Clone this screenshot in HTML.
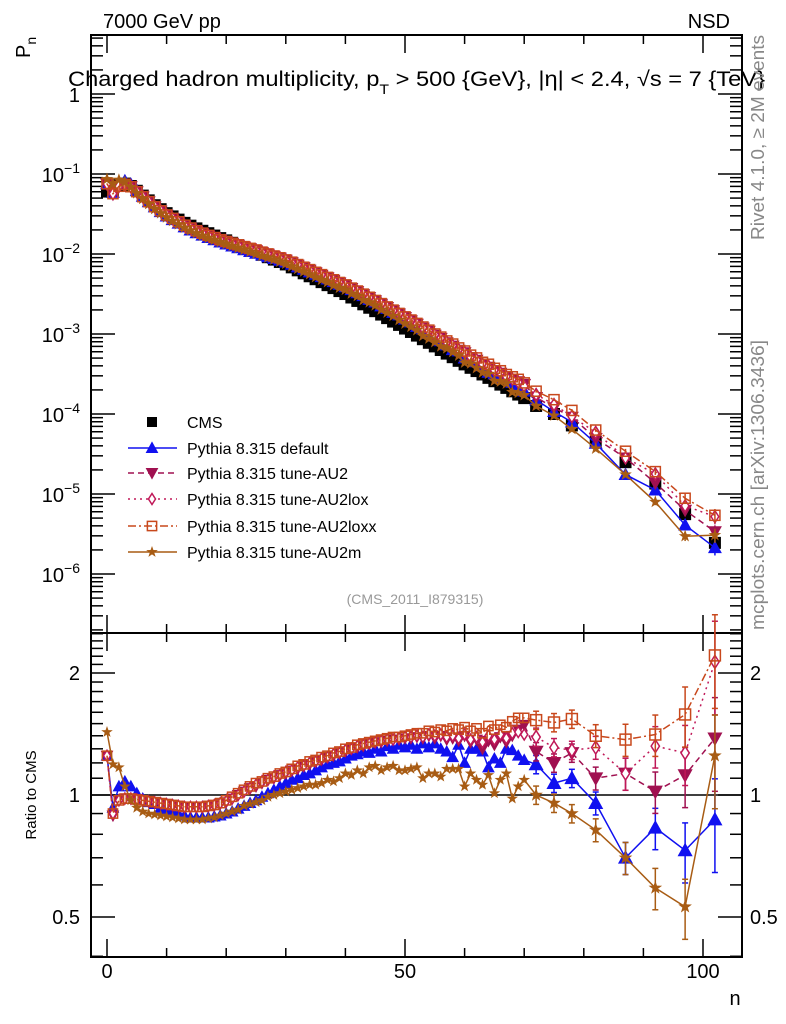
<!DOCTYPE html>
<html><head><meta charset="utf-8"><style>
html,body{margin:0;padding:0;background:#fff;}
svg{display:block;font-family:"Liberation Sans",sans-serif;}
</style></head><body>
<svg id="c" width="786" height="1024" viewBox="0 0 786 1024" xmlns="http://www.w3.org/2000/svg"></svg>
<script>
// ---- data ----
const nVals = [0,1,2,3,4,5,6,7,8,9,10,11,12,13,14,15,16,17,18,19,20,21,22,23,24,25,26,27,28,29,30,31,32,33,34,35,36,37,38,39,40,41,42,43,44,45,46,47,48,49,50,51,52,53,54,55,56,57,58,59,60,61,62,63,64,65,66,67,68,69,70,72,75,78,82,87,92,97,102];
const cmsVals = [0.0603,0.0631,0.0724,0.0759,0.0708,0.0617,0.0537,0.0468,0.0407,0.0363,0.0324,0.0295,0.0269,0.0245,0.0226,0.0209,0.0195,0.0182,0.0170,0.0158,0.0148,0.0138,0.0129,0.0120,0.0112,0.0105,0.00977,0.00912,0.00851,0.00794,0.00741,0.00681,0.00625,0.00574,0.00527,0.00484,0.00445,0.00408,0.00375,0.00344,0.00316,0.00286,0.00259,0.00235,0.00213,0.00193,0.00175,0.00158,0.00143,0.00130,0.00117,0.00106,0.000955,0.000861,0.000776,0.000700,0.000631,0.000569,0.000513,0.000462,0.000417,0.000378,0.000344,0.000312,0.000283,0.000257,0.000233,0.000212,0.000192,0.000175,0.000158,0.000126,0.000100,0.000072,0.000045,0.000025,0.0000135,0.0000056,0.00000245];
const ratioDefault = [1.25,0.93,1.05,1.08,1.05,1.01,0.98,0.96,0.95,0.93,0.92,0.91,0.9,0.89,0.88,0.88,0.88,0.88,0.885,0.89,0.9,0.91,0.925,0.94,0.955,0.97,0.99,1.01,1.03,1.05,1.07,1.09,1.1,1.12,1.13,1.15,1.17,1.19,1.2,1.21,1.23,1.25,1.26,1.28,1.27,1.3,1.28,1.32,1.3,1.33,1.31,1.33,1.3,1.34,1.31,1.34,1.3,1.28,1.24,1.33,1.2,1.3,1.3,1.28,1.17,1.23,1.2,1.3,1.29,1.25,1.22,1.19,1.07,1.10,0.955,0.70,0.83,0.73,0.87];
const ratioAU2 = [1.25,0.89,0.97,0.98,0.98,0.97,0.965,0.96,0.955,0.95,0.945,0.94,0.935,0.93,0.93,0.93,0.93,0.935,0.94,0.95,0.96,0.98,1.0,1.02,1.04,1.05,1.07,1.09,1.1,1.12,1.13,1.15,1.16,1.18,1.19,1.21,1.22,1.24,1.25,1.27,1.28,1.3,1.31,1.32,1.34,1.35,1.35,1.36,1.37,1.37,1.38,1.38,1.39,1.38,1.4,1.38,1.4,1.37,1.38,1.36,1.4,1.35,1.37,1.3,1.36,1.33,1.39,1.35,1.4,1.45,1.49,1.28,1.2,1.27,1.10,1.13,1.02,1.12,1.38];
const ratioAU2lox = [1.25,0.9,0.97,0.98,0.98,0.975,0.97,0.965,0.96,0.955,0.95,0.945,0.94,0.935,0.935,0.935,0.935,0.94,0.945,0.955,0.965,0.98,1.0,1.02,1.04,1.06,1.08,1.09,1.11,1.12,1.14,1.15,1.17,1.18,1.2,1.21,1.23,1.24,1.26,1.27,1.29,1.3,1.32,1.33,1.34,1.35,1.36,1.37,1.37,1.38,1.39,1.39,1.4,1.39,1.41,1.4,1.41,1.39,1.4,1.38,1.41,1.37,1.39,1.35,1.4,1.37,1.41,1.38,1.42,1.43,1.41,1.39,1.31,1.29,1.31,1.13,1.32,1.27,2.13];
const ratioAU2loxx = [1.25,0.9,0.97,0.98,0.98,0.975,0.97,0.965,0.96,0.955,0.95,0.945,0.94,0.935,0.935,0.935,0.935,0.94,0.945,0.955,0.97,0.99,1.01,1.03,1.05,1.07,1.08,1.1,1.11,1.13,1.14,1.16,1.18,1.19,1.21,1.22,1.24,1.25,1.27,1.28,1.3,1.31,1.33,1.34,1.35,1.36,1.37,1.38,1.39,1.39,1.4,1.41,1.42,1.42,1.44,1.43,1.45,1.44,1.46,1.45,1.47,1.44,1.46,1.42,1.48,1.45,1.49,1.47,1.52,1.55,1.55,1.53,1.51,1.54,1.40,1.37,1.41,1.58,2.21];
const ratioAU2m = [1.43,1.19,1.17,1.05,0.97,0.93,0.91,0.9,0.895,0.89,0.885,0.88,0.875,0.87,0.87,0.87,0.87,0.875,0.88,0.89,0.9,0.91,0.92,0.94,0.95,0.96,0.97,0.99,1.0,1.01,1.02,1.03,1.04,1.05,1.06,1.06,1.07,1.09,1.08,1.1,1.13,1.12,1.15,1.13,1.17,1.18,1.15,1.17,1.18,1.15,1.15,1.16,1.17,1.1,1.13,1.13,1.11,1.16,1.16,1.16,1.05,1.13,1.09,1.06,1.12,1.01,1.09,1.13,0.98,1.05,1.09,1.0,0.955,0.90,0.82,0.70,0.59,0.53,1.25];
const tailRelErr = [0.04,0.04,0.04,0.05,0.07,0.09,0.13,0.2]; // for last 8 points
const baseRelErr = 0.012;
const xTickLabels = ["0","50","100"];
const ratioTickLabels = ["0.5","1","2"];

// ---- axes ----
const NS="http://www.w3.org/2000/svg";
const svg=document.getElementById('c');
const X0=91,X1=742,MT=35,MB=633,RB=957;
function xs(n){return 107+(n-0)*(703-107)/100;}
function ym(v){return 94-80*Math.log10(v);}
function yr(r){return 795-405.3*Math.log10(r);}
function el(tag,attrs,parent){const e=document.createElementNS(NS,tag);for(const k in attrs)e.setAttribute(k,attrs[k]);(parent||svg).appendChild(e);return e;}
function relErr(i){const k=i-(nVals.length-tailRelErr.length);return k>=0?tailRelErr[k]:baseRelErr;}

const fm=el('rect',{x:X0,y:MT,width:X1-X0,height:MB-MT,fill:'none',stroke:'#000','stroke-width':2});


const fr=el('rect',{x:X0,y:MB,width:X1-X0,height:RB-MB,fill:'none',stroke:'#000','stroke-width':2});



const gx=el('g',{stroke:'#000','stroke-width':1.5});


for(let n=0;n<=105;n+=10){const x=xs(n);const len=n%50===0?18:9;
  el('line',{x1:x,y1:MT,x2:x,y2:MT+len},gx);el('line',{x1:x,y1:MB,x2:x,y2:MB-len},gx);
  el('line',{x1:x,y1:MB,x2:x,y2:MB+len},gx);el('line',{x1:x,y1:RB,x2:x,y2:RB-len},gx);}
const gy=el('g',{stroke:'#000','stroke-width':1.5});


for(let d=-7;d<=0;d++){for(let m=1;m<10;m++){const v=m*Math.pow(10,d);const y=ym(v);if(y<MT||y>MB)continue;const len=m===1?24:12;
  el('line',{x1:X0,y1:y,x2:X0+len,y2:y},gy);el('line',{x1:X1,y1:y,x2:X1-len,y2:y},gy);}}
for(let k=4;k<=25;k++){const r=k/10;const y=yr(r);if(y<MB||y>RB)continue;const major=(k===5||k===10||k===20);const len=major?24:12;
  el('line',{x1:X0,y1:y,x2:X0+len,y2:y},gy);el('line',{x1:X1,y1:y,x2:X1-len,y2:y},gy);}
const one=el('line',{x1:X0,y1:yr(1),x2:X1,y2:yr(1),stroke:'#000','stroke-width':1.5});



function txt(s,x,y,attrs){const t=el('text',Object.assign({x:x,y:y,'font-size':20,fill:'#000'},attrs||{}));t.textContent=s;return t;}
[0,50,100].forEach((n,i)=>{const t=txt(xTickLabels[i],xs(n),978,{'text-anchor':'middle'});
  
  });
[0.5,1,2].forEach((r,i)=>{const a=txt(ratioTickLabels[i],80,yr(r)+7,{'text-anchor':'end'});
  
  
  const b=txt(ratioTickLabels[i],750,yr(r)+7,{'text-anchor':'start'});
  
  });
const l1=txt('1',80,ym(1)+8,{'text-anchor':'end'});


for(let d=-1;d>=-6;d--){const t=el('text',{x:80,y:ym(Math.pow(10,d))+8,'font-size':20,'text-anchor':'end'});
  
  
  t.innerHTML='10<tspan dy="-9" font-size="14">\u2212'+(-d)+'</tspan>';}

function marker(g,type,x,y,s,col){
  if(type==='sq')el('rect',{x:x-s/2,y:y-s/2,width:s,height:s,fill:col},g);
  else if(type==='tu')el('polygon',{points:`${x},${y-s*0.6} ${x-s*0.58},${y+s*0.45} ${x+s*0.58},${y+s*0.45}`,fill:col},g);
  else if(type==='td')el('polygon',{points:`${x},${y+s*0.6} ${x-s*0.58},${y-s*0.45} ${x+s*0.58},${y-s*0.45}`,fill:col},g);
  else if(type==='di')el('polygon',{points:`${x},${y-s*0.5} ${x+s*0.32},${y} ${x},${y+s*0.5} ${x-s*0.32},${y}`,fill:'#fff',stroke:col,'stroke-width':1.5},g);
  else if(type==='osq')el('rect',{x:x-s*0.42,y:y-s*0.42,width:s*0.84,height:s*0.84,fill:'none',stroke:col,'stroke-width':1.5},g);
  else if(type==='st'){let p=[];for(let k=0;k<10;k++){const a=-Math.PI/2+k*Math.PI/5;const rr=k%2?s*0.22:s*0.55;p.push((x+rr*Math.cos(a)).toFixed(1)+','+(y+rr*Math.sin(a)).toFixed(1));}
    el('polygon',{points:p.join(' '),fill:col},g);}
}
const series=[
 {name:'default',r:ratioDefault,col:'#1010f0',m:'tu',dash:''},
 {name:'au2',r:ratioAU2,col:'#a01050',m:'td',dash:'6,4'},
 {name:'au2lox',r:ratioAU2lox,col:'#c01858',m:'di',dash:'2,4'},
 {name:'au2loxx',r:ratioAU2loxx,col:'#c8481c',m:'osq',dash:'8,3,2,3'},
 {name:'au2m',r:ratioAU2m,col:'#a85c14',m:'st',dash:''}
];
const gc=el('g',{});


nVals.forEach((n,i)=>marker(gc,'sq',xs(n),ym(cmsVals[i]),12,'#000'));
series.forEach(s=>{
  const g=el('g',{});
  
  
  const pts=nVals.map((n,i)=>xs(n).toFixed(1)+','+ym(cmsVals[i]*s.r[i]).toFixed(1)).join(' ');
  el('polyline',{points:pts,fill:'none',stroke:s.col,'stroke-width':1.5,'stroke-dasharray':s.dash},g);
  nVals.forEach((n,i)=>{const v=cmsVals[i]*s.r[i],e=relErr(i);const x=xs(n);
    el('line',{x1:x,y1:ym(v*(1+e)),x2:x,y2:ym(v*(1-e)),stroke:s.col,'stroke-width':1.5},g);
    marker(g,s.m,x,ym(v),12,s.col);});
  const gr=el('g',{});
  
  
  const rp=nVals.map((n,i)=>xs(n).toFixed(1)+','+yr(s.r[i]).toFixed(1)).join(' ');
  el('polyline',{points:rp,fill:'none',stroke:s.col,'stroke-width':1.5,'stroke-dasharray':s.dash},gr);
  nVals.forEach((n,i)=>{const r=s.r[i],e=relErr(i)*1.3;const x=xs(n);
    if(e>0.02){el('line',{x1:x,y1:yr(r*(1+e)),x2:x,y2:yr(r*(1-e)),stroke:s.col,'stroke-width':1.5},gr);
      el('line',{x1:x-3,y1:yr(r*(1+e)),x2:x+3,y2:yr(r*(1+e)),stroke:s.col,'stroke-width':1.5},gr);
      el('line',{x1:x-3,y1:yr(r*(1-e)),x2:x+3,y2:yr(r*(1-e)),stroke:s.col,'stroke-width':1.5},gr);}
    marker(gr,s.m,x,yr(r),i>=nVals.length-8?13:11,s.col);});
});

const lg=el('g',{});


marker(lg,'sq',152,422,10,'#000');
const lc=txt('CMS',187,428,{'font-size':16});


const labels=['Pythia 8.315 default','Pythia 8.315 tune-AU2','Pythia 8.315 tune-AU2lox','Pythia 8.315 tune-AU2loxx','Pythia 8.315 tune-AU2m'];
const rowsY=[448,473,499,526,552];
series.forEach((s,i)=>{const y=rowsY[i];
  el('line',{x1:128,y1:y,x2:177,y2:y,stroke:s.col,'stroke-width':1.5,'stroke-dasharray':s.dash},lg);
  marker(lg,s.m,152,y,11,s.col);
  const t=txt(labels[i],187,y+6,{'font-size':16});
  
  });

const t1=txt('7000 GeV pp',103,28,{'font-size':20});


const t2=txt('NSD',730,28,{'font-size':20,'text-anchor':'end'});


const tt=el('text',{x:68,y:86,'font-size':21,textLength:697,lengthAdjust:'spacingAndGlyphs'});


tt.innerHTML='Charged hadron multiplicity, p<tspan dy="8" font-size="14">T</tspan><tspan dy="-8"> &gt; 500 {GeV}, |η| &lt; 2.4, √s = 7 {TeV}</tspan>';
const yl=el('text',{transform:'translate(30,58) rotate(-90)','font-size':20});


yl.innerHTML='P<tspan dy="6" font-size="14">n</tspan>';
const rl=txt('Ratio to CMS',0,0,{'font-size':15,transform:'translate(36,795) rotate(-90)','text-anchor':'middle'});


const xl=txt('n',735,1005,{'font-size':20,'text-anchor':'middle'});


const ref=txt('(CMS_2011_I879315)',415,604,{'font-size':14,fill:'#999','text-anchor':'middle'});


const rv=txt('Rivet 4.1.0, \u2265 2M events',0,0,{'font-size':18,fill:'#888',transform:'translate(764,240) rotate(-90)',textLength:205,lengthAdjust:'spacingAndGlyphs'});


const mc=txt('mcplots.cern.ch [arXiv:1306.3436]',0,0,{'font-size':18,fill:'#888',transform:'translate(764,630) rotate(-90)',textLength:290,lengthAdjust:'spacingAndGlyphs'});


</script>
</body></html>
